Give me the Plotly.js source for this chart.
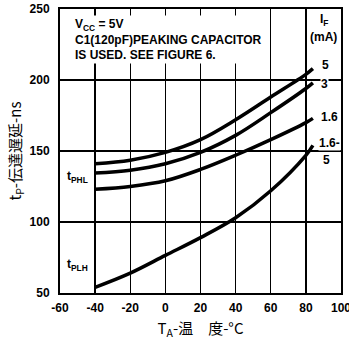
<!DOCTYPE html>
<html>
<head>
<meta charset="utf-8">
<script src="https://cdn.plot.ly/plotly-3.0.1.min.js"></script>
<style>html,body{margin:0;padding:0;background:#fff;}#chart{width:349px;height:343px;}</style>
</head>
<body>
<div id="chart"></div>
<script>
// Ambient temperature (deg C)
const temps = [-40, -20, 0, 20, 40, 60, 80, 84];
// tPHL for IF = 5 mA, 3 mA, 1.6 mA (ns)
const tphl5 = [141, 143.5, 149, 158, 172, 188, 204, 208];
const tphl3 = [134.5, 136.5, 141, 149, 161, 177, 194, 198];
const tphl16 = [123, 125, 129, 137, 147, 158, 170, 173];
// tPLH for IF = 1.6-5 mA (ns)
const tplh = [54, 64, 76.5, 89, 103, 122, 147, 154];

const seriesNames = ['5', '3', '1.6', '1.6-5'];
const seriesData = [tphl5, tphl3, tphl16, tplh];

const xTicks = [-60, -40, -20, 0, 20, 40, 60, 80, 100];
const yTicks = [50, 100, 150, 200, 250];

const traces = seriesData.map((ys, i) => ({
  x: temps, y: ys, name: seriesNames[i], type: 'scatter', mode: 'lines',
  line: {color: '#000', width: 3.5, shape: 'spline', smoothing: 1},
  hoverinfo: 'skip'
}));

const bold = {family: 'Liberation Sans, Arial, sans-serif', size: 12, color: '#000', weight: 'bold'};

function ann(text, x, y, extra) {
  return Object.assign({text: text, x: x, y: y, xref: 'x', yref: 'y', showarrow: false,
    font: bold, bgcolor: '#fff', borderpad: 0}, extra || {});
}

const annotations = [
  ann('V<sub>CC</sub> = 5V<br>C1(120pF)PEAKING CAPACITOR<br>IS USED. SEE FIGURE 6.', -52.6, 246,
      {xanchor: 'left', yanchor: 'top', align: 'left', borderpad: 1}),
  ann('I<sub>F</sub>', 90.5, 242.5),
  ann('(mA)', 90, 230.5),
  ann('5', 91, 210.6),
  ann('3', 90.5, 197.2),
  ann('1.6', 93.5, 174),
  ann('1.6-', 93.5, 155.6),
  ann('5', 92, 143.7),
  ann('t<sub>PHL</sub>', -50.3, 131.7, {bgcolor: 'rgba(0,0,0,0)'}),
  ann('t<sub>PLH</sub>', -50.3, 69.7, {bgcolor: 'rgba(0,0,0,0)'})
];

const layout = {
  width: 349, height: 343,
  margin: {l: 60, r: 8, t: 9, b: 50},
  paper_bgcolor: '#fff', plot_bgcolor: '#fff',
  showlegend: false,
  xaxis: {
    range: [-60, 100], tickvals: xTicks, ticktext: xTicks.map(String),
    showgrid: true, gridcolor: '#000', gridwidth: 1.3,
    showline: true, linecolor: '#000', linewidth: 2, mirror: true,
    zeroline: false, ticks: '', ticklabelstandoff: 3, ticklabeloverflow: 'allow',
    tickfont: bold,
    title: {text: 'T<sub>A</sub>-温　度-°C', standoff: 9,
      font: {family: 'Noto Sans CJK JP, sans-serif', size: 15, color: '#000'}}
  },
  yaxis: {
    range: [50, 250], tickvals: yTicks, ticktext: yTicks.map(String),
    showgrid: true, gridcolor: '#000', gridwidth: 1.3,
    showline: true, linecolor: '#000', linewidth: 2, mirror: true,
    zeroline: false, ticks: '', ticklabelstandoff: 6,
    tickfont: bold,
    title: {text: 't<sub>P</sub>-伝達遅延-ns', standoff: 4,
      font: {family: 'Noto Sans CJK JP, sans-serif', size: 15, color: '#000'}}
  },
  annotations: annotations
};

Plotly.newPlot('chart', traces, layout, {staticPlot: true, displayModeBar: false});
</script>
</body>
</html>
